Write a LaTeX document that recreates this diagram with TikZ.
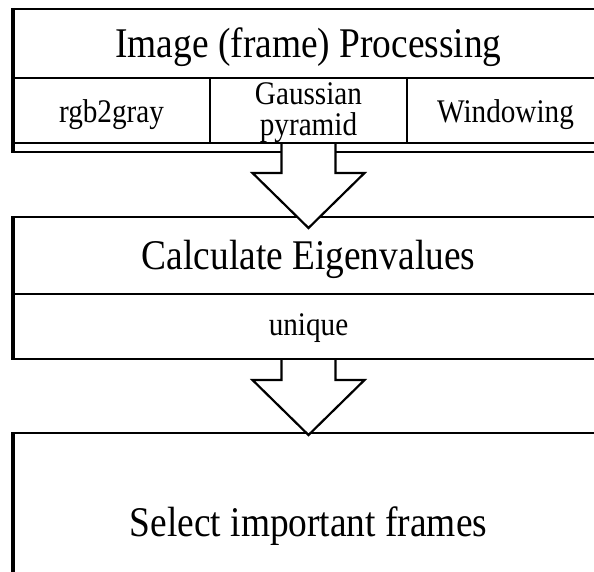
\documentclass[tikz,border=0pt]{standalone}
\usepackage{fontspec}
\setmainfont{Liberation Serif}
\usetikzlibrary{calc}

% hollow block arrow: #1 = top of the shaft, #2 = tip
\newcommand{\hollowarrow}[2]{%
  \draw[blockarrow]
    ($(#1)+(-27,1.2)$) -- ($(#2)+(-27,-55)$) -- ($(#2)+(-56,-55)$) --
    (#2) --
    ($(#2)+(56,-55)$) -- ($(#2)+(27,-55)$) -- ($(#1)+(27,1.2)$);
}
% slightly tall lettering
\newcommand{\tall}[1]{\scalebox{1}[1.13]{#1}}

\begin{document}
\begin{tikzpicture}[x=1bp,y=-1bp,
  region/.style={inner sep=0pt, outer sep=0pt, anchor=north west, minimum width=591bp},
  cell/.style={inner sep=0pt, outer sep=0pt, anchor=north west, minimum width=197bp},
  big/.style={inner sep=0pt, font=\fontsize{37.4bp}{40bp}\selectfont},
  small/.style={inner sep=0pt, font=\fontsize{29.2bp}{31bp}\selectfont, align=center},
  frame/.style={draw=black, line width=2.4bp},
  divider/.style={draw=black, line width=1.6bp},
  edge/.style={draw=black, line width=3.4bp},
  blockarrow/.style={draw=black, fill=white, line width=2.2bp, line join=miter},
]
\clip (0,0) rectangle (594,572);
\fill[white] (0,0) rectangle (594,572);

% --- image processing block
\node[region, minimum height=69bp] (proc) at (13,9) {};
\node[cell, minimum height=65bp] (rgb)   at (13,78)  {};
\node[cell, minimum height=65bp] (gauss) at (210,78) {};
\node[cell, minimum height=65bp] (win)   at (407,78) {};
\node[big]   (procT)  at ($(proc.center)+(0,4)$)  {\tall{Image (frame) Processing}};
\node[small] (rgbT)   at ($(rgb.center)+(0,4)$)   {\tall{rgb2gray}};
\node[small] (gaussT) at ($(gauss.center)+(0,2)$) {\tall{Gaussian}\\\tall{pyramid}};
\node[small] (winT)   at ($(win.center)+(0,4)$)   {\tall{Windowing}};
\coordinate (lowsw) at ($(rgb.south west)+(0,9)$);
\coordinate (lowse) at ($(win.south east)+(0,9)$);

\draw[frame] (proc.north west) -- (proc.north east);
\draw[divider] (proc.south west) -- (proc.south east);
\draw[divider] (rgb.north east) -- (rgb.south east);
\draw[divider] (gauss.north east) -- (gauss.south east);
\draw[frame] (rgb.south west) -- (win.south east);
\draw[frame] (lowsw) -- (lowse);
\draw[edge] ($(proc.north west)+(0,-1)$) -- ($(lowsw)+(0,1)$);

% --- eigenvalue block
\node[region, minimum height=77bp] (eig) at (13,217) {};
\node[region, minimum height=65bp] (uniq) at (13,294) {};
\node[big]   (eigT)  at ($(eig.center)+(0,4)$)  {\tall{Calculate Eigenvalues}};
\node[small] (uniqT) at ($(uniq.center)+(0,2)$) {\tall{unique}};
\draw[frame] (eig.north west) -- (eig.north east);
\draw[divider] (eig.south west) -- (eig.south east);
\draw[frame] (uniq.south west) -- (uniq.south east);
\draw[edge] ($(eig.north west)+(0,-1)$) -- ($(uniq.south west)+(0,1)$);

% --- selection block
\node[region, minimum height=172bp] (sel) at (13,433) {};
\node[big] (selT) at ($(sel.center)+(0,7)$) {\tall{Select important frames}};
\draw[frame] (sel.north west) -- (sel.north east);
\draw[edge] ($(sel.north west)+(0,-1)$) -- (sel.south west);

% --- block arrows between the stages
\coordinate (tipA) at ($(eig.north)+(0,11)$);
\coordinate (tipB) at ($(sel.north)+(0,2)$);
\hollowarrow{gauss.south}{tipA}
\hollowarrow{uniq.south}{tipB}
\end{tikzpicture}
\end{document}
